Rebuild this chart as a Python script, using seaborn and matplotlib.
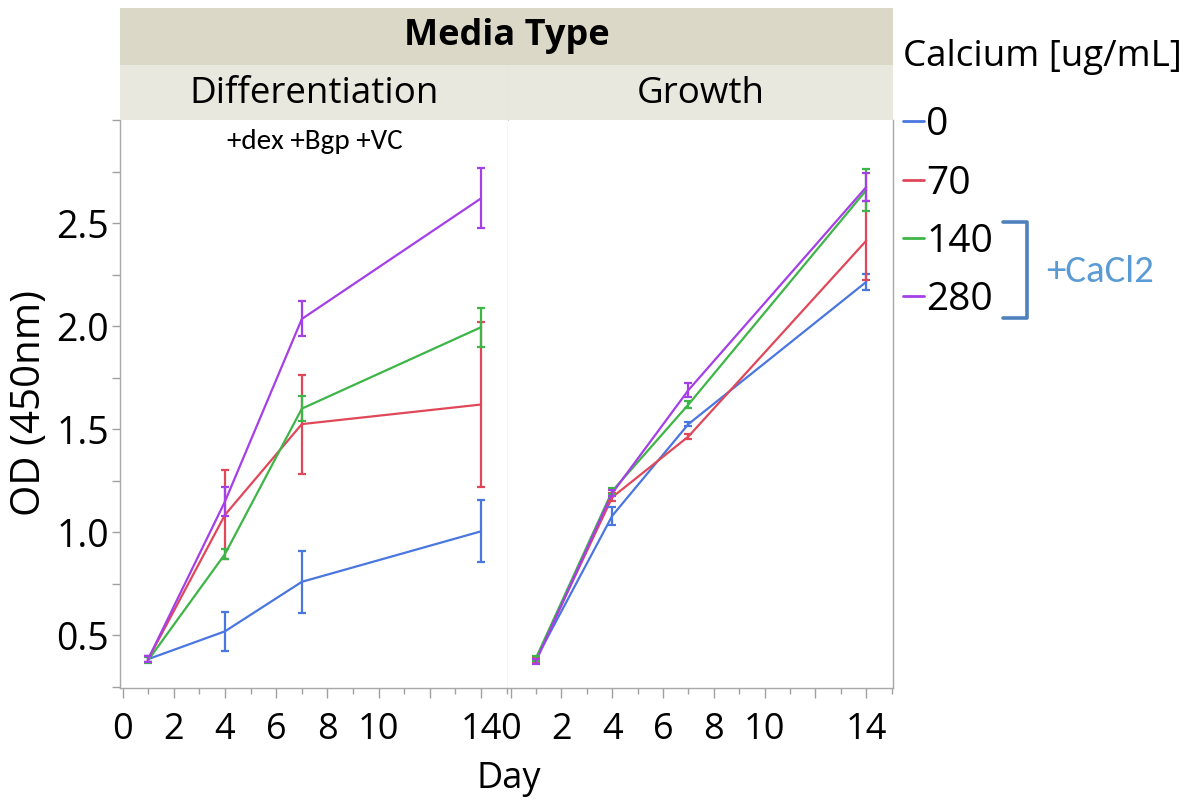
import numpy as np
import pandas as pd
import seaborn as sns
import matplotlib
matplotlib.use("Agg")
import matplotlib.pyplot as plt
from matplotlib.lines import Line2D
from matplotlib.ticker import MultipleLocator, FixedLocator, FixedFormatter
from matplotlib import font_manager

# ---------------- data ----------------
days = [1, 4, 7, 14]
calcium_levels = ["0", "70", "140", "280"]
media_types = ["Differentiation", "Growth"]

diff_0 = [0.385, 0.52, 0.76, 1.005]
diff_0_err = [0.015, 0.095, 0.15, 0.15]
diff_70 = [0.385, 1.085, 1.525, 1.62]
diff_70_err = [0.015, 0.215, 0.24, 0.40]
diff_140 = [0.38, 0.895, 1.60, 1.995]
diff_140_err = [0.015, 0.025, 0.06, 0.095]
diff_280 = [0.385, 1.15, 2.035, 2.62]
diff_280_err = [0.015, 0.07, 0.085, 0.145]

gr_0 = [0.385, 1.08, 1.525, 2.215]
gr_0_err = [0.012, 0.045, 0.01, 0.04]
gr_70 = [0.385, 1.17, 1.465, 2.415]
gr_70_err = [0.012, 0.02, 0.01, 0.19]
gr_140 = [0.39, 1.20, 1.62, 2.66]
gr_140_err = [0.012, 0.015, 0.015, 0.10]
gr_280 = [0.375, 1.19, 1.69, 2.675]
gr_280_err = [0.012, 0.015, 0.035, 0.07]

x_ticks = [0, 2, 4, 6, 8, 10, 12, 14]
x_tick_labels = ["0", "2", "4", "6", "8", "10", "", "14"]
y_ticks = [0.5, 1.0, 1.5, 2.0, 2.5]
y_tick_labels = ["0.5", "1.0", "1.5", "2.0", "2.5"]

colors = ["#4a76e0", "#e0485a", "#3db547", "#a53fe8"]

means = {
    "Differentiation": [diff_0, diff_70, diff_140, diff_280],
    "Growth": [gr_0, gr_70, gr_140, gr_280],
}
errs = {
    "Differentiation": [diff_0_err, diff_70_err, diff_140_err, diff_280_err],
    "Growth": [gr_0_err, gr_70_err, gr_140_err, gr_280_err],
}

rows = []
for m in media_types:
    for ci, c in enumerate(calcium_levels):
        for di, d in enumerate(days):
            rows.append({"Media": m, "Calcium": c, "Day": d,
                         "OD": means[m][ci][di], "err": errs[m][ci][di]})
df = pd.DataFrame(rows)

# ---------------- style ----------------
sns.set_style("white")
avail = {f.name for f in font_manager.fontManager.ttflist}
main_font = next((f for f in ["Open Sans", "Noto Sans", "DejaVu Sans"] if f in avail), "DejaVu Sans")
note_font = next((f for f in ["Carlito", "Lato", "Open Sans"] if f in avail), main_font)
plt.rcParams["font.family"] = [main_font, "DejaVu Sans"]
plt.rcParams["text.color"] = "black"
plt.rcParams["axes.labelcolor"] = "black"

W, H = 1201, 806
fig = plt.figure(figsize=(W / 100, H / 100), dpi=100)


def fx(px):
    return px / W


def fy(py):
    return 1 - py / H


X0, XM, X1 = 120, 508, 893
YT0, YT1, YS1, YB = 8, 65, 120, 688

ax_l = fig.add_axes([fx(X0), fy(YB), fx(XM) - fx(X0), fy(YS1) - fy(YB)])
ax_r = fig.add_axes([fx(XM), fy(YB), fx(X1) - fx(XM), fy(YS1) - fy(YB)], sharey=ax_l)
axes = {"Differentiation": ax_l, "Growth": ax_r}

palette = dict(zip(calcium_levels, colors))
for m, ax in axes.items():
    sub = df[df["Media"] == m]
    sns.lineplot(data=sub, x="Day", y="OD", hue="Calcium", hue_order=calcium_levels,
                 palette=palette, errorbar=None, legend=False, linewidth=1.6, ax=ax)
    for c in calcium_levels:
        s = sub[sub["Calcium"] == c]
        ax.errorbar(s["Day"], s["OD"], yerr=s["err"], fmt="none",
                    ecolor=palette[c], elinewidth=1.6, capsize=3.2, capthick=1.6)
    ax.set_xlim(-0.1, 15.05)
    ax.set_ylim(0.245, 3.0)
    ax.xaxis.set_major_locator(FixedLocator(x_ticks))
    ax.xaxis.set_major_formatter(FixedFormatter(x_tick_labels))
    ax.xaxis.set_minor_locator(MultipleLocator(1))
    ax.set_xlabel("")
    ax.set_ylabel("")
    ax.tick_params(axis="x", which="major", direction="out", length=7, width=1,
                   color="#a0a0a0", labelcolor="black", labelsize=26, pad=10, bottom=True)
    ax.tick_params(axis="x", which="minor", direction="out", length=4, width=1,
                   color="#a0a0a0", bottom=True)
    for sp in ax.spines.values():
        sp.set_color("#a8a8a8")
        sp.set_linewidth(1)
    ax.spines["top"].set_visible(False)

ax_l.yaxis.set_major_locator(FixedLocator(y_ticks))
ax_l.yaxis.set_major_formatter(FixedFormatter(y_tick_labels))
ax_l.yaxis.set_minor_locator(MultipleLocator(0.25))
ax_l.tick_params(axis="y", which="major", direction="out", length=6, width=1,
                 color="#a0a0a0", labelcolor="black", labelsize=27, pad=2, left=True)
ax_l.tick_params(axis="y", which="minor", direction="out", length=6, width=1,
                 color="#a0a0a0", left=True)
ax_l.spines["right"].set_color("#dadada")
ax_r.spines["left"].set_visible(False)
ax_r.tick_params(axis="y", which="both", left=False, labelleft=False)

ax_l.text(0.503, 0.962, "+dex +Bgp +VC", transform=ax_l.transAxes, ha="center",
          va="center", fontsize=21, family=[note_font, "DejaVu Sans"], color="black")

# ---------------- strips ----------------
top = fig.add_axes([fx(X0), fy(YT1), fx(X1) - fx(X0), fy(YT0) - fy(YT1)])
top.set_facecolor("#dbd8c7")
top.set_xticks([]); top.set_yticks([])
for sp in top.spines.values():
    sp.set_visible(False)
top.text(0.5, 0.5, "Media Type", ha="center", va="center", fontsize=26,
         fontweight="bold", transform=top.transAxes, color="black")

for (x_a, x_b), m in zip([(X0, XM), (XM, X1)], media_types):
    st = fig.add_axes([fx(x_a), fy(YS1), fx(x_b) - fx(x_a), fy(YT1) - fy(YS1)])
    st.set_facecolor("#e9e8df")
    st.set_xticks([]); st.set_yticks([])
    for sp in st.spines.values():
        sp.set_visible(False)
    st.spines["right"].set_visible(m == "Differentiation")
    st.spines["right"].set_color("#d3d1c6")
    st.text(0.5, 0.47, m, ha="center", va="center", fontsize=26.5,
            transform=st.transAxes, color="black")

# ---------------- axis labels ----------------
fig.text(fx(30), fy(403), "OD (450nm)", rotation=90, ha="center", va="center", fontsize=29)
fig.text(fx(509), fy(779), "Day", ha="center", va="center", fontsize=26)

# ---------------- legend ----------------
fig.text(fx(903), fy(57), "Calcium [ug/mL]", ha="left", va="center", fontsize=26.5)
for i, (c, col) in enumerate(zip(calcium_levels, colors)):
    yy = 125 + i * 58.5
    fig.add_artist(Line2D([fx(903), fx(924)], [fy(yy - 4), fy(yy - 4)], color=col,
                          lw=2, transform=fig.transFigure))
    fig.text(fx(926), fy(yy), c, ha="left", va="center", fontsize=28)

fig.add_artist(Line2D([fx(1003), fx(1027), fx(1027), fx(1003)],
                      [fy(222), fy(222), fy(318), fy(318)], color="#4f81bd", lw=2.6,
                      solid_joinstyle="round", transform=fig.transFigure))
fig.text(fx(1046), fy(271), "+CaCl2", ha="left", va="center", fontsize=28,
         family=[note_font, "DejaVu Sans"], color="#5b9bd5")

fig.savefig("out.png", dpi=100, facecolor="white")
